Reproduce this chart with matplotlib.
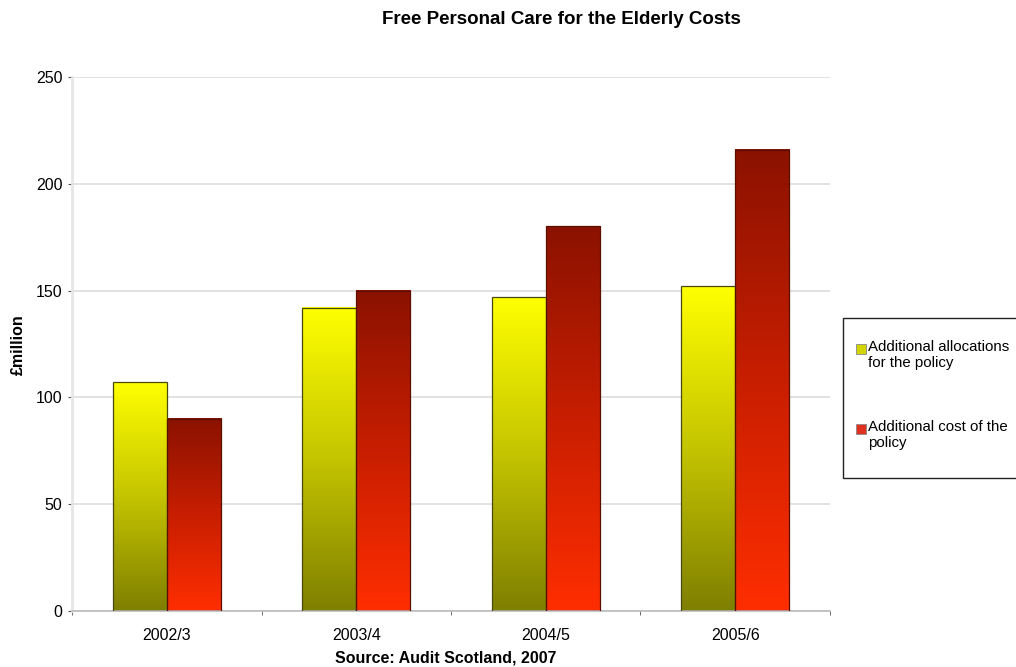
import numpy as np
import matplotlib
matplotlib.use('Agg')
import matplotlib.pyplot as plt
from matplotlib.colors import LinearSegmentedColormap
from matplotlib.patches import Rectangle

plt.rcParams['font.family'] = ['Liberation Sans', 'DejaVu Sans']

# data
years = ['2002/3', '2003/4', '2004/5', '2005/6']
allocations = [107, 142, 147, 152]
costs = [90, 150, 180, 216]
series_names = ['Additional allocations\nfor the policy', 'Additional cost of the\npolicy']

# gradients: bottom colour -> top colour
cmap_yel = LinearSegmentedColormap.from_list('yel', ['#7f7f00', '#c4c400', '#ffff00'])
cmap_red = LinearSegmentedColormap.from_list('red', ['#ff2e00', '#c81e00', '#8b1200'])

fig = plt.figure(figsize=(10.16, 6.67), dpi=100)
ax = fig.add_axes([0.0709, 0.084, 0.746, 0.8006])

x = np.arange(len(years))
w = 0.285
bars1 = ax.bar(x - w/2, allocations, w, color='none', edgecolor='#4a4a10', linewidth=0.9, zorder=3)
bars2 = ax.bar(x + w/2, costs, w, color='none', edgecolor='#5a1000', linewidth=0.9, zorder=3)

grad = np.linspace(0, 1, 256).reshape(-1, 1)
for bars, cm in [(bars1, cmap_yel), (bars2, cmap_red)]:
  for b in bars:
    x0, h, bw = b.get_x(), b.get_height(), b.get_width()
    ax.imshow(grad, cmap=cm, origin='lower', aspect='auto',
              extent=[x0, x0 + bw, 0, h], zorder=2)

ax.set_xlim(-0.5, len(years) - 0.5)
ax.set_ylim(0, 250)
ax.set_yticks([0, 50, 100, 150, 200, 250])
ax.set_xticks(x)
ax.set_xticklabels(years)
ax.set_xticks(np.arange(len(years) + 1) - 0.5, minor=True)
ax.tick_params(axis='x', which='major', length=0, pad=12, labelsize=11.5)
ax.tick_params(axis='x', which='minor', length=3, color='#555555', direction='out')
ax.tick_params(axis='y', length=3, color='#555555', labelsize=11.5, pad=4)

ax.yaxis.grid(True, color='#dddddd', linewidth=1.2, zorder=0)
ax.set_axisbelow(True)
for s in ['top', 'right']:
  ax.spines[s].set_visible(False)
ax.spines['left'].set_color('#e6e6e6')
ax.spines['left'].set_linewidth(2)
ax.spines['bottom'].set_color('#bbbbbb')
ax.spines['bottom'].set_linewidth(1.2)

fig.text(18/1016, 1 - 345/667, '£million', rotation=90, ha='center', va='center',
         fontsize=11.5, fontweight='bold')
fig.text(446/1016, 1 - 658/667, 'Source: Audit Scotland, 2007', ha='center', va='center',
         fontsize=11.5, fontweight='bold')
fig.text(561/1016, 1 - 19/667, 'Free Personal Care for the Elderly Costs', ha='center', va='center',
         fontsize=13.5, fontweight='bold')

# legend box (runs off the right edge like the original)
fig.patches.append(Rectangle((843/1016, 1 - 478/667), 200/1016, 160/667,
                             transform=fig.transFigure, facecolor='white',
                             edgecolor='#222222', linewidth=1))
leg_cols = ['#d4d400', '#e03020']
leg_y = [349, 429]
for name, c, yy in zip(series_names, leg_cols, leg_y):
  fig.patches.append(Rectangle((856/1016, 1 - (yy + 5)/667), 10/1016, 10/667,
                               transform=fig.transFigure, facecolor=c,
                               edgecolor='#888888', linewidth=0.6))
  fig.text(868/1016, 1 - (yy - 9)/667, name, ha='left', va='top', fontsize=10.8,
           linespacing=1.2)

fig.savefig('out.png', dpi=100)
